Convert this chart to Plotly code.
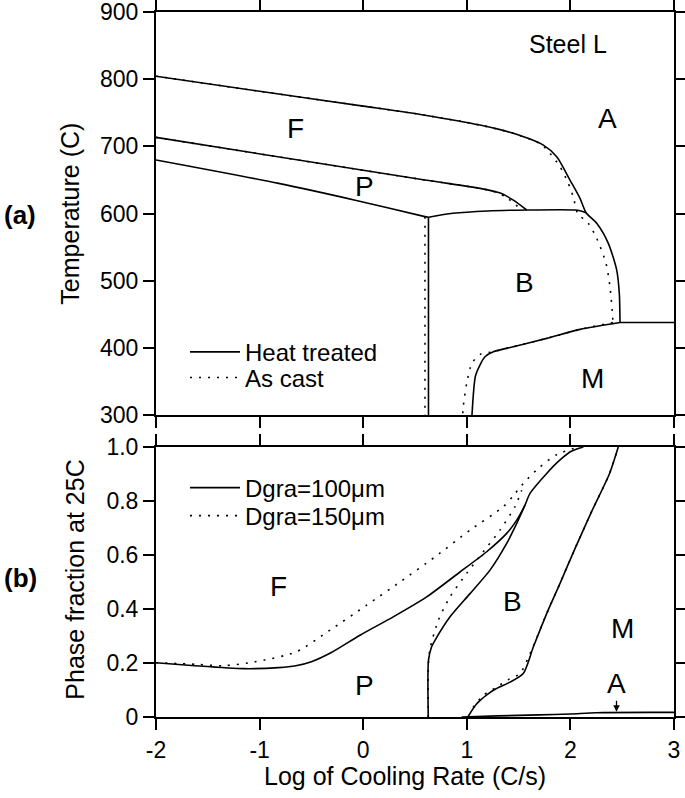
import plotly.graph_objects as go

# ---------------- data: panel (a) temperature vs log cooling rate ----------------
af_ht_x = [-2.0, -1.0, 0.0, 0.596, 1.127, 1.449, 1.739, 1.868, 1.996, 2.093, 2.151, 2.254, 2.366, 2.447, 2.472, 2.479]
af_ht_y = [804.5, 782.0, 760.0, 746.5, 731.8, 719.5, 702.0, 684.7, 650.0, 622.8, 601.4, 585.6, 555.8, 516.0, 481.4, 438.0]
af_ac_x = [-2.0, -1.0, 0.0, 0.596, 1.127, 1.449, 1.72, 1.803, 1.90, 1.98, 2.028, 2.07, 2.173, 2.254, 2.344, 2.382, 2.408, 2.41]
af_ac_y = [804.5, 782.0, 760.0, 746.5, 731.8, 719.5, 703.0, 689.7, 669.8, 645.0, 625.0, 600.4, 585.6, 563.3, 526.0, 491.0, 446.6, 438.0]

fp_ht_x = [-2.0, 0.596, 1.127, 1.336, 1.449, 1.578]
fp_ht_y = [713.4, 650.0, 637.6, 630.0, 620.0, 605.4]
fp_ac_x = [-2.0, 0.596, 1.127, 1.30, 1.40, 1.53]
fp_ac_y = [713.4, 650.0, 637.6, 631.0, 622.0, 605.4]

pl_ht_x = [-2.0, -0.816, -0.077, 0.596, 0.63]
pl_ht_y = [679.7, 645.0, 620.0, 595.5, 594.5]
bt_ht_x = [0.63, 0.865, 1.2, 1.578, 2.045, 2.10, 2.151]
bt_ht_y = [594.5, 600.5, 604.0, 605.4, 605.4, 604.0, 601.4]

vert_ht_x = [0.63, 0.63]
vert_ht_y = [594.5, 300.0]
vert_ac_x = [0.596, 0.596]
vert_ac_y = [595.5, 300.0]

ma_x = [2.479, 3.0]
ma_y = [438.0, 438.0]

bm_ht_x = [2.479, 2.093, 1.771, 1.449, 1.256, 1.176, 1.127, 1.083, 1.05]
bm_ht_y = [438.0, 427.8, 414.4, 402.0, 394.5, 387.0, 374.7, 358.0, 300.0]
bm_ac_x = [2.41, 2.093, 1.771, 1.449, 1.256, 1.134, 1.05, 1.0, 0.966, 0.96]
bm_ac_y = [438.0, 427.8, 414.4, 402.0, 394.5, 391.0, 377.7, 348.0, 313.3, 300.0]

# ---------------- data: panel (b) phase fraction at 25C ----------------
f100_x = [-2.0, -1.657, -1.153, -0.816, -0.65, -0.5, -0.312, -0.031, 0.29, 0.613, 0.934, 1.192, 1.385, 1.482, 1.562, 1.61, 1.771, 1.90, 2.008, 2.125]
f100_y = [0.201, 0.191, 0.179, 0.183, 0.190, 0.205, 0.238, 0.303, 0.371, 0.445, 0.537, 0.612, 0.680, 0.729, 0.785, 0.828, 0.902, 0.952, 0.984, 1.0]
f150_x = [-2.0, -1.6, -1.35, -1.05, -0.648, -0.312, 0.033, 0.355, 0.693, 1.031, 1.353, 1.45, 1.546, 1.705, 1.87, 2.075]
f150_y = [0.201, 0.195, 0.190, 0.204, 0.241, 0.324, 0.414, 0.500, 0.593, 0.692, 0.779, 0.82, 0.865, 0.926, 0.972, 1.0]

p100_x = [0.628, 0.63, 0.66, 0.693, 0.838, 1.031, 1.224, 1.385, 1.482, 1.562]
p100_y = [0.0, 0.21, 0.26, 0.284, 0.371, 0.457, 0.544, 0.643, 0.717, 0.785]
p150_x = [0.628, 0.63, 0.645, 0.725, 0.838, 0.999, 1.159, 1.32, 1.465, 1.53]
p150_y = [0.0, 0.20, 0.253, 0.358, 0.445, 0.532, 0.612, 0.692, 0.779, 0.84]

b100_x = [1.01, 1.096, 1.256, 1.417, 1.545, 1.642, 1.771, 1.90, 2.04, 2.21, 2.378, 2.462]
b100_y = [0.0, 0.049, 0.099, 0.129, 0.161, 0.259, 0.383, 0.495, 0.620, 0.765, 0.902, 1.0]
b150_x = [1.06, 1.159, 1.289, 1.40, 1.513, 1.60, 1.771, 1.90, 2.04, 2.21, 2.378, 2.462]
b150_y = [0.035, 0.080, 0.111, 0.138, 0.161, 0.225, 0.383, 0.495, 0.620, 0.765, 0.902, 1.0]

ra_x = [0.95, 1.3, 1.7, 2.0, 2.25, 3.0]
ra_y = [0.0, 0.004, 0.008, 0.011, 0.016, 0.017]

x_ticks = [-2, -1, 0, 1, 2, 3]
x_ticktext = ["-2", "-1", "0", "1", "2", "3"]
t_ticks = [300, 400, 500, 600, 700, 800, 900]
f_ticks = [0, 0.2, 0.4, 0.6, 0.8, 1.0]
f_ticktext = ["0", "0.2", "0.4", "0.6", "0.8", "1.0"]

# labels
a_labels = ["F", "P", "A", "B", "M"]
a_lab_x = [-0.65, 0.01, 2.36, 1.555, 2.21]
a_lab_y = [727, 640, 742, 497, 355]
b_labels = ["F", "P", "B", "M"]
b_lab_x = [-0.82, 0.01, 1.44, 2.50]
b_lab_y = [0.482, 0.117, 0.427, 0.328]

FONT = "Arial, Liberation Sans, sans-serif"
BLACK = "#000000"
DOT = "2px,7px"
LW = 1.6

fig = go.Figure()

def add(x, y, xa, ya, dash="solid", name=None, legend=None, show=False, smooth=True):
    line = dict(color=BLACK, width=LW, dash=dash)
    if smooth:
        line.update(shape="spline", smoothing=0.7)
    fig.add_trace(go.Scatter(x=x, y=y, xaxis=xa, yaxis=ya, mode="lines",
                             line=line, name=name, showlegend=show, legend=legend,
                             hoverinfo="skip"))

# panel a
add(af_ht_x, af_ht_y, "x", "y", "solid", "Heat treated", "legend", True)
add(af_ac_x, af_ac_y, "x", "y", DOT, "As cast", "legend2", True)
add(fp_ht_x, fp_ht_y, "x", "y")
add(fp_ac_x, fp_ac_y, "x", "y", DOT)
add(pl_ht_x, pl_ht_y, "x", "y")
add(bt_ht_x, bt_ht_y, "x", "y")
add(vert_ac_x, vert_ac_y, "x", "y", DOT, smooth=False)
add(vert_ht_x, vert_ht_y, "x", "y", smooth=False)
add(ma_x, ma_y, "x", "y", smooth=False)
add(bm_ac_x, bm_ac_y, "x", "y", DOT)
add(bm_ht_x, bm_ht_y, "x", "y")

# panel b
add(f100_x, f100_y, "x2", "y2", "solid", "Dgra=100\u03bcm", "legend3", True)
add(f150_x, f150_y, "x2", "y2", DOT, "Dgra=150\u03bcm", "legend4", True)
add(p150_x, p150_y, "x2", "y2", DOT)
add(p100_x, p100_y, "x2", "y2")
add(b150_x, b150_y, "x2", "y2", DOT)
add(b100_x, b100_y, "x2", "y2")
add(ra_x, ra_y, "x2", "y2")

def txt(text, x, y, xref, yref, size, angle=0):
    return dict(text=text, x=x, y=y, xref=xref, yref=yref, showarrow=False,
                xanchor="center", yanchor="middle", textangle=angle,
                font=dict(size=size, color=BLACK, family=FONT))

ann = []
for t, x, y in zip(a_labels, a_lab_x, a_lab_y):
    ann.append(txt(t, x, y, "x", "y", 28))
ann.append(txt("Steel L", 1.975, 853, "x", "y", 25))
for t, x, y in zip(b_labels, b_lab_x, b_lab_y):
    ann.append(txt(t, x, y, "x2", "y2", 28))
ann.append(dict(text="A", x=2.445, y=0.019, xref="x2", yref="y2",
                ax=2.445, ay=0.123, axref="x2", ayref="y2", showarrow=True,
                arrowhead=2, arrowsize=1, arrowwidth=1.3, arrowcolor=BLACK,
                font=dict(size=28, color=BLACK, family=FONT)))
ann.append(txt("Temperature (C)", -0.166, 0.714, "paper", "paper", 25, -90))
ann.append(txt("Phase fraction at 25C", -0.158, 0.195, "paper", "paper", 25, -90))
ann.append(txt("<b>(a)</b>", -0.262, 0.712, "paper", "paper", 26))
ann.append(txt("<b>(b)</b>", -0.262, 0.197, "paper", "paper", 26))
ann.append(txt("Log of Cooling Rate (C/s)", 0.48, -0.084, "paper", "paper", 25))

axis_common = dict(showline=True, linecolor=BLACK, linewidth=2, mirror="allticks",
                   ticks="outside", ticklen=11, tickwidth=2, tickcolor=BLACK,
                   showgrid=False, zeroline=False, automargin=False,
                   ticklabeloverflow="allow",
                   tickfont=dict(size=23, color=BLACK, family=FONT))

def leg(y):
    return dict(x=0.056, y=y, xanchor="left", yanchor="middle", xref="paper", yref="paper",
                bgcolor="rgba(0,0,0,0)", font=dict(size=24, color=BLACK, family=FONT),
                tracegroupgap=0, itemwidth=50, borderwidth=0)

fig.update_layout(
    width=685, height=798,
    margin=dict(l=156, r=11, t=12, b=81, autoexpand=False),
    paper_bgcolor="white", plot_bgcolor="white",
    font=dict(family=FONT, color=BLACK),
    xaxis=dict(domain=[0, 1], range=[-2, 3], anchor="y", tickvals=x_ticks,
               showticklabels=False, **axis_common),
    yaxis=dict(domain=[0.428, 1], range=[300, 900], anchor="x", tickvals=t_ticks,
               **axis_common),
    xaxis2=dict(domain=[0, 1], range=[-2, 3], anchor="y2", tickvals=x_ticks,
                ticktext=x_ticktext, **axis_common),
    yaxis2=dict(domain=[0, 0.383], range=[0, 1], anchor="x2", tickvals=f_ticks,
                ticktext=f_ticktext, **axis_common),
    legend=leg(0.5173),
    legend2=leg(0.4809),
    legend3=leg(0.3248),
    legend4=leg(0.2851),
    annotations=ann,
)

fig.write_html("out.html", config={"displayModeBar": False},
               post_script="document.body.style.margin='0';")
